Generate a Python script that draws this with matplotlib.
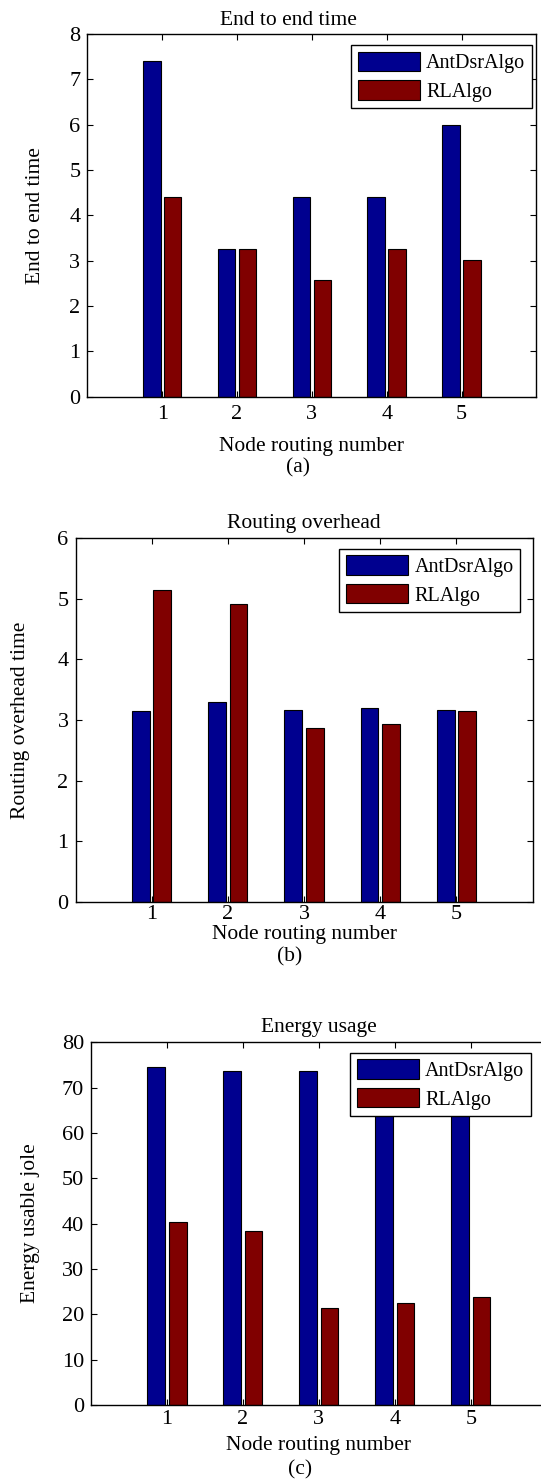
import matplotlib
matplotlib.use("Agg")
import matplotlib.pyplot as plt
import numpy as np

plt.rcParams['font.family'] = ['Liberation Serif', 'DejaVu Serif']

nodes = [1, 2, 3, 4, 5]
series_names = ['AntDsrAlgo', 'RLAlgo']

# (a) end to end time
ant_e2e = [7.4, 3.25, 4.4, 4.4, 6.0]
rl_e2e = [4.4, 3.25, 2.57, 3.25, 3.01]

# (b) routing overhead
ant_overhead = [3.14, 3.29, 3.16, 3.19, 3.16]
rl_overhead = [5.15, 4.92, 2.86, 2.93, 3.14]

# (c) energy usage
ant_energy = [74.6, 73.7, 73.7, 73.5, 73.5]
rl_energy = [40.4, 38.4, 21.4, 22.4, 23.8]

blue = '#00008f'
red = '#800000'
H = 1482.0
W = 541.0

fig = plt.figure(figsize=(5.41, 14.82), dpi=100)

panels = [
    dict(rect=[0.1615, 0.7323, 0.8300, 0.2447], title='End to end time', title_x=0.448,
         ylabel='End to end time', ymax=8, yticks=range(0, 9), ant=ant_e2e, rl=rl_e2e,
         anchor=(0.99, 0.97), tag='(a)', bottom=396.7, title_y=20, xlab_y=446,
         tag_xy=(298, 468), ylab_x=36, pad=6),
    dict(rect=[0.1396, 0.3916, 0.8447, 0.2452], title='Routing overhead', title_x=0.5,
         ylabel='Routing overhead time', ymax=6, yticks=range(0, 7), ant=ant_overhead,
         rl=rl_overhead, anchor=(0.973, 0.971), tag='(b)', bottom=901.7, title_y=524,
         xlab_y=935, tag_xy=(290, 957), ylab_x=21, pad=2.5),
    dict(rect=[0.1682, 0.0520, 0.8425, 0.2447], title='Energy usage', title_x=0.5,
         ylabel='Energy usable jole', ymax=80, yticks=range(0, 81, 10), ant=ant_energy,
         rl=rl_energy, anchor=(0.965, 0.971), tag='(c)', bottom=1405, title_y=1028,
         xlab_y=1446, tag_xy=(300, 1470), ylab_x=31, pad=3.5),
]

x = np.array(nodes)
w = 0.235
off = 0.14

for p in panels:
    ax = fig.add_axes(p['rect'])
    ax.bar(x - off, p['ant'], w, color=blue, edgecolor='black', linewidth=0.8, label=series_names[0])
    ax.bar(x + off, p['rl'], w, color=red, edgecolor='black', linewidth=0.8, label=series_names[1])
    ax.set_xlim(0, 6)
    ax.set_ylim(0, p['ymax'])
    ax.set_xticks(nodes)
    ax.set_yticks(list(p['yticks']))
    ax.tick_params(direction='in', length=4, width=0.8, top=True, right=True,
                   labelsize=16)
    ax.tick_params(axis='x', pad=p['pad'])
    ax.tick_params(axis='y', pad=5)
    for s in ax.spines.values():
        s.set_linewidth(1.0)

    # pixel positions -> axes fractions
    x0 = p['rect'][0] * W
    wpx = p['rect'][2] * W
    y_bot = p['bottom']
    hpx = p['rect'][3] * H
    ax.set_title(p['title'], fontsize=15.5, x=p['title_x'],
                 y=(y_bot - p['title_y']) / hpx, va='center', pad=0)
    ax.set_xlabel('Node routing number', fontsize=15.5)
    ax.xaxis.set_label_coords(0.5, (y_bot - p['xlab_y']) / hpx)
    ax.xaxis.label.set_va('center')
    ax.set_ylabel(p['ylabel'], fontsize=15.5)
    ax.yaxis.set_label_coords((p['ylab_x'] - x0) / wpx, 0.5)
    ax.yaxis.label.set_va('center')

    leg = ax.legend(loc='upper right', bbox_to_anchor=p['anchor'], borderaxespad=0,
                    fontsize=14.5, handlelength=3.1, handleheight=1.1, fancybox=False,
                    edgecolor='black', framealpha=1, borderpad=0.33, labelspacing=0.35,
                    handletextpad=0.3)
    leg.get_frame().set_linewidth(1.0)
    fig.text(p['tag_xy'][0] / W, 1 - p['tag_xy'][1] / H, p['tag'],
             ha='center', va='center', fontsize=15.5)

fig.savefig('out.png', dpi=100)
